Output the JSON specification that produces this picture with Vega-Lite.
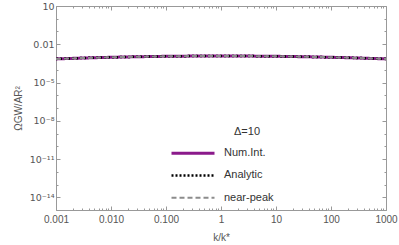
{
  "$schema": "https://vega.github.io/schema/vega-lite/v6.json",
  "width": 330,
  "height": 204,
  "autosize": "none",
  "padding": {"left": 56, "top": 6, "right": 13, "bottom": 35},
  "background": "white",
  "config": {
    "view": {"stroke": null},
    "font": "Liberation Sans",
    "axis": {
      "domainColor": "#999999",
      "tickColor": "#999999",
      "labelColor": "#555555",
      "titleColor": "#555555",
      "labelFontSize": 10,
      "titleFontSize": 10,
      "titleFontWeight": "normal",
      "grid": false
    },
    "legend": {"labelColor": "#333333", "titleColor": "#333333"}
  },
  "data": {
    "values": [
      {"k": 0.001, "v": 0.000708, "s": "Num.Int."},
      {"k": 0.00316, "v": 0.000832, "s": "Num.Int."},
      {"k": 0.01, "v": 0.00095, "s": "Num.Int."},
      {"k": 0.0316, "v": 0.00105, "s": "Num.Int."},
      {"k": 0.1, "v": 0.00113, "s": "Num.Int."},
      {"k": 0.316, "v": 0.00118, "s": "Num.Int."},
      {"k": 1, "v": 0.0012, "s": "Num.Int."},
      {"k": 3.16, "v": 0.00118, "s": "Num.Int."},
      {"k": 10, "v": 0.00113, "s": "Num.Int."},
      {"k": 31.6, "v": 0.00105, "s": "Num.Int."},
      {"k": 100, "v": 0.00095, "s": "Num.Int."},
      {"k": 316, "v": 0.000832, "s": "Num.Int."},
      {"k": 1000, "v": 0.000708, "s": "Num.Int."},
      {"k": 0.001, "v": 0.000708, "s": "Analytic"},
      {"k": 0.00316, "v": 0.000832, "s": "Analytic"},
      {"k": 0.01, "v": 0.00095, "s": "Analytic"},
      {"k": 0.0316, "v": 0.00105, "s": "Analytic"},
      {"k": 0.1, "v": 0.00113, "s": "Analytic"},
      {"k": 0.316, "v": 0.00118, "s": "Analytic"},
      {"k": 1, "v": 0.0012, "s": "Analytic"},
      {"k": 3.16, "v": 0.00118, "s": "Analytic"},
      {"k": 10, "v": 0.00113, "s": "Analytic"},
      {"k": 31.6, "v": 0.00105, "s": "Analytic"},
      {"k": 100, "v": 0.00095, "s": "Analytic"},
      {"k": 316, "v": 0.000832, "s": "Analytic"},
      {"k": 1000, "v": 0.000708, "s": "Analytic"},
      {"k": 0.001, "v": 0.000708, "s": "near-peak"},
      {"k": 0.00316, "v": 0.000832, "s": "near-peak"},
      {"k": 0.01, "v": 0.00095, "s": "near-peak"},
      {"k": 0.0316, "v": 0.00105, "s": "near-peak"},
      {"k": 0.1, "v": 0.00113, "s": "near-peak"},
      {"k": 0.316, "v": 0.00118, "s": "near-peak"},
      {"k": 1, "v": 0.0012, "s": "near-peak"},
      {"k": 3.16, "v": 0.00118, "s": "near-peak"},
      {"k": 10, "v": 0.00113, "s": "near-peak"},
      {"k": 31.6, "v": 0.00105, "s": "near-peak"},
      {"k": 100, "v": 0.00095, "s": "near-peak"},
      {"k": 316, "v": 0.000832, "s": "near-peak"},
      {"k": 1000, "v": 0.000708, "s": "near-peak"}
    ]
  },
  "layer": [
    {
      "mark": {"type": "line", "interpolate": "monotone"},
      "encoding": {
        "x": {
          "field": "k", "type": "quantitative",
          "scale": {"type": "log", "domain": [0.001, 1000], "nice": false},
          "axis": {
            "title": "k/k*",
            "titlePadding": 6,
            "values": [0.001,0.002,0.003,0.004,0.005,0.006,0.007,0.008,0.009,0.01,0.02,0.03,0.04,0.05,0.06,0.07,0.08,0.09,0.1,0.2,0.3,0.4,0.5,0.6,0.7,0.8,0.9,1,2,3,4,5,6,7,8,9,10,20,30,40,50,60,70,80,90,100,200,300,400,500,600,700,800,900,1000],
            "labelExpr": "datum.value==0.001?'0.001':datum.value==0.01?'0.010':datum.value==0.1?'0.100':datum.value==1?'1':datum.value==10?'10':datum.value==100?'100':datum.value==1000?'1000':''",
            "tickSize": {"expr": "(datum.value==0.001||datum.value==0.01||datum.value==0.1||datum.value==1||datum.value==10||datum.value==100||datum.value==1000)?-4:-2"},
            "labelPadding": 8,
            "labelOverlap": false,
            "labelFlush": false
          }
        },
        "y": {
          "field": "v", "type": "quantitative",
          "scale": {"type": "log", "domain": [1e-15, 10], "nice": false},
          "axis": {
            "title": "ΩGW/AR²",
            "titlePadding": 6,
            "labelFont": "DejaVu Sans",
            "labelFontSize": 9.5,
            "values": [1e-15,1e-14,1e-13,1e-12,1e-11,1e-10,1e-9,1e-8,1e-7,1e-6,1e-5,1e-4,0.001,0.01,0.1,1,10],
            "labelExpr": "datum.value==10?'10':datum.value==0.01?'0.01':datum.value==1e-5?'10⁻⁵':datum.value==1e-8?'10⁻⁸':datum.value==1e-11?'10⁻¹¹':datum.value==1e-14?'10⁻¹⁴':''",
            "tickSize": {"expr": "(datum.value==10||datum.value==0.01||datum.value==1e-5||datum.value==1e-8||datum.value==1e-11||datum.value==1e-14)?-4:-2"},
            "labelPadding": 6,
            "labelOverlap": false,
            "labelFlush": false
          }
        },
        "color": {
          "field": "s", "type": "nominal",
          "scale": {"domain": ["Num.Int.", "Analytic", "near-peak"], "range": ["#8B1A8B", "#000000", "#8C8C8C"]},
          "legend": {
            "title": "\u2800\u2800\u2800\u2800\u2800\u2800\u2800\u2800Δ=10",
            "orient": "none",
            "legendX": 114,
            "legendY": 120,
            "symbolType": "stroke",
            "symbolSize": 1849,
            "clipHeight": 20.5,
            "rowPadding": 1.2,
            "labelFontSize": 11,
            "titleFontSize": 11,
            "titleFontWeight": "normal",
            "titlePadding": 6,
            "labelOffset": 8
          }
        },
        "strokeDash": {
          "field": "s", "type": "nominal",
          "scale": {"domain": ["Num.Int.", "Analytic", "near-peak"], "range": [[1, 0], [2, 2], [5, 3]]},
          "legend": {"title": "\u2800\u2800\u2800\u2800\u2800\u2800\u2800\u2800Δ=10"}
        },
        "strokeWidth": {
          "field": "s", "type": "nominal",
          "scale": {"domain": ["Num.Int.", "Analytic", "near-peak"], "range": [3, 2, 2]},
          "legend": {"title": "\u2800\u2800\u2800\u2800\u2800\u2800\u2800\u2800Δ=10"}
        }
      }
    },
    {
      "mark": {"type": "rule", "opacity": 0},
      "encoding": {
        "x": {
          "field": "k", "type": "quantitative",
          "axis": {
            "title": null, "labels": false,
            "values": [0.001,0.002,0.003,0.004,0.005,0.006,0.007,0.008,0.009,0.01,0.02,0.03,0.04,0.05,0.06,0.07,0.08,0.09,0.1,0.2,0.3,0.4,0.5,0.6,0.7,0.8,0.9,1,2,3,4,5,6,7,8,9,10,20,30,40,50,60,70,80,90,100,200,300,400,500,600,700,800,900,1000],
            "tickSize": {"expr": "(datum.value==0.001||datum.value==0.01||datum.value==0.1||datum.value==1||datum.value==10||datum.value==100||datum.value==1000)?-4:-2"}
          }
        },
        "y": {
          "field": "v", "type": "quantitative",
          "axis": {
            "title": null, "labels": false,
            "values": [1e-15,1e-14,1e-13,1e-12,1e-11,1e-10,1e-9,1e-8,1e-7,1e-6,1e-5,1e-4,0.001,0.01,0.1,1,10],
            "tickSize": {"expr": "(datum.value==10||datum.value==0.01||datum.value==1e-5||datum.value==1e-8||datum.value==1e-11||datum.value==1e-14)?-4:-2"}
          }
        }
      }
    }
  ],
  "resolve": {"axis": {"x": "independent", "y": "independent"}}
}
